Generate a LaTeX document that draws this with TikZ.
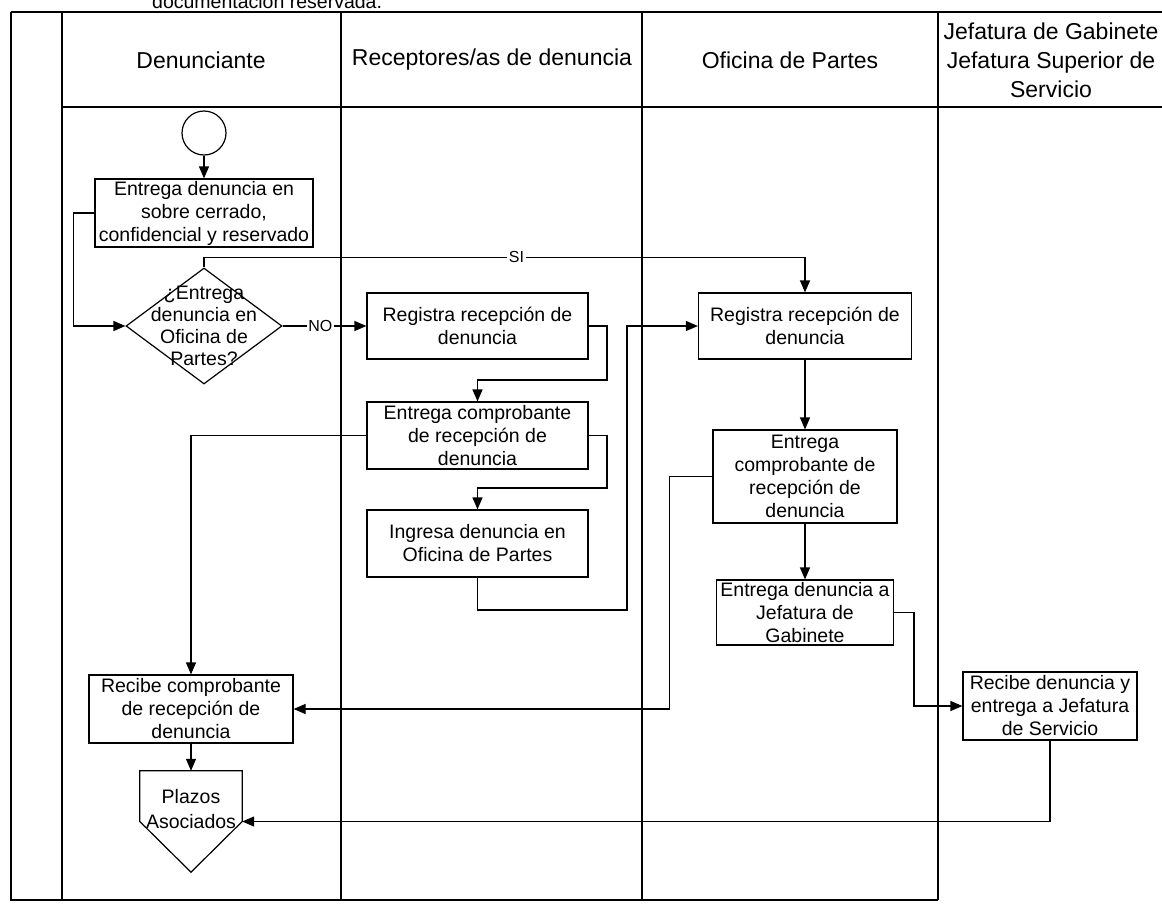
\documentclass[tikz,border=0pt]{standalone}
\usepackage{fontspec}
\setmainfont{Liberation Sans}
\usetikzlibrary{shapes.geometric,arrows.meta}
\begin{document}
\begin{tikzpicture}[x=1pt,y=-1pt,
  box/.style={draw, line width=1.2pt, inner sep=0pt, align=center, font=\fontsize{19.5}{23}\selectfont},
  arr/.style={line width=1.2pt, -{Triangle[length=12pt,width=10pt]}},
  lane/.style={line width=1.6pt},
  hdr/.style={align=center, font=\fontsize{23}{29}\selectfont, inner sep=0pt},
  lbl/.style={fill=white, inner sep=1.5pt, font=\fontsize{16}{18}\selectfont}]
\useasboundingbox (0,0) rectangle (1162,905);
\fill[white] (0,0) rectangle (1162,905);

% cut-off note at the top
\node[anchor=base west, inner sep=0pt, font=\fontsize{19.5}{23}\selectfont] (note) at (152,8) {documentación reservada.};

% frame and lanes
\draw[line width=2.4pt] (11,12) -- (1162,12);
\draw[line width=2.2pt] (62,107) -- (1162,107);
\draw[lane] (11,12) -- (11,900) -- (938,900);
\draw[lane] (62,12) -- (62,900);
\foreach \x in {341,642,938} \draw[lane] (\x,12) -- (\x,900);

% headers
\node[hdr] (h1) at (201,60) {Denunciante};
\node[hdr] (h2) at (492,60) {Receptores/as de denuncia};
\node[hdr] (h3) at (790,60) {Oficina de Partes};
\node[hdr] (h4) at (1051,60) {Jefatura de Gabinete\\Jefatura Superior de\\Servicio};

% Denunciante
\node[draw, circle, line width=1.2pt, minimum size=44pt, inner sep=0pt] (start) at (204,133) {};
\node[box, minimum width=218pt, minimum height=68pt] (b1) at (204,213) {Entrega denuncia en\\sobre cerrado,\\confidencial y reservado};
\node[draw, diamond, line width=1.2pt, minimum width=156pt, minimum height=116pt, inner sep=0pt] (dec) at (204,326) {};
\node[align=center, font=\fontsize{19.5}{22}\selectfont, inner sep=0pt] (dect) at (dec.center) {¿Entrega\\denuncia en\\Oficina de\\Partes?};
\node[box, minimum width=204pt, minimum height=68pt] (d2) at (191,709) {Recibe comprobante\\de recepción de\\denuncia};
\node[minimum width=102pt, minimum height=101pt, inner sep=0pt] (plz) at (191,821.5) {};
\draw[line width=1.2pt] (plz.north west) -- (plz.north east) -- (plz.east) -- (plz.south) -- (plz.west) -- cycle;
\node[align=center, font=\fontsize{19.5}{25}\selectfont, inner sep=0pt] (plzt) at (191,809) {Plazos\\Asociados};

% Receptores
\node[box, minimum width=221pt, minimum height=66pt] (r1) at (477.5,326) {Registra recepción de\\denuncia};
\node[box, minimum width=221pt, minimum height=67pt] (r2) at (477.5,435.5) {Entrega comprobante\\de recepción de\\denuncia};
\node[box, minimum width=221pt, minimum height=67pt] (r3) at (477.5,543.5) {Ingresa denuncia en\\Oficina de Partes};

% Oficina de Partes
\node[box, minimum width=213pt, minimum height=66pt] (o1) at (805,326) {Registra recepción de\\denuncia};
\node[box, minimum width=184pt, minimum height=93pt] (o2) at (805,476.5) {Entrega\\comprobante de\\recepción de\\denuncia};
\node[box, minimum width=177pt, minimum height=65pt] (o3) at (805,612.5) {Entrega denuncia a\\Jefatura de\\Gabinete};

% Jefatura
\node[box, minimum width=174pt, minimum height=68pt] (j1) at (1050,706) {Recibe denuncia y\\entrega a Jefatura\\de Servicio};

% connectors
\draw[arr] (start.south) -- (b1.north);
\draw[arr] (b1.west) -- ++(-21,0) |- (dec.west);
\draw[arr] (dec.north) -- ++(0,-10) -| node[lbl, pos=0.26] {SI} (o1.north);
\draw[arr] (dec.east) -- node[lbl, pos=0.45] {NO} (r1.west);
\draw[arr] (r1.east) -| (607,380) -| (r2.north);
\draw[arr] (r2.east) -| (607,488) -| (r3.north);
\draw[arr] (r3.south) |- (627,610) |- (o1.west);
\draw[arr] (r2.west) -| (d2.north);
\draw[arr] (o1.south) -- (o2.north);
\draw[arr] (o2.south) -- (o3.north);
\draw[arr] (o2.west) -- ++(-43,0) |- (d2.east);
\draw[arr] (o3.east) -| (914,706) -- (j1.west);
\draw[arr] (j1.south) |- (plz.east);
\draw[arr] (d2.south) -- (plz.north);
\end{tikzpicture}
\end{document}
